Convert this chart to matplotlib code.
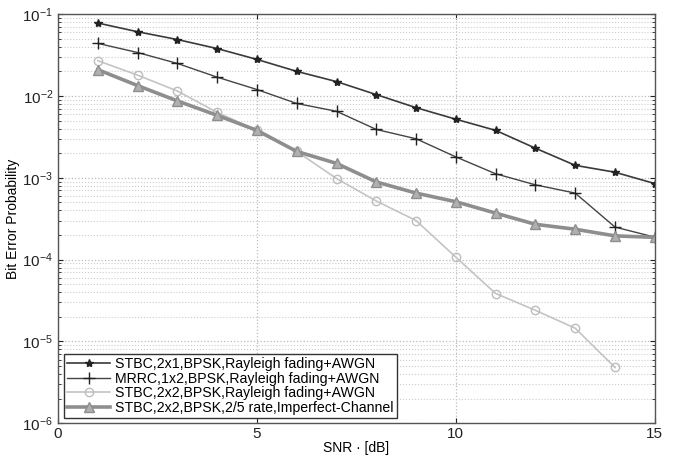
import matplotlib
matplotlib.use("Agg")
import matplotlib.pyplot as plt
from matplotlib.ticker import LogLocator, NullFormatter, FixedLocator

plt.rcParams['font.family'] = ['Liberation Sans', 'DejaVu Sans']
plt.rcParams['mathtext.fontset'] = 'custom'
plt.rcParams['mathtext.rm'] = 'Liberation Sans'
plt.rcParams['mathtext.it'] = 'Liberation Sans'

snr = list(range(1, 16))
snr_2x2 = list(range(1, 15))

ber_stbc_2x1 = [0.078, 0.061, 0.049, 0.038, 0.028, 0.020, 0.015, 0.0104,
                0.0072, 0.0052, 0.0038, 0.0023, 0.00142, 0.00117, 0.00085]
ber_mrrc_1x2 = [0.044, 0.034, 0.025, 0.017, 0.012, 0.0081, 0.0065, 0.0039,
                0.0030, 0.0018, 0.00112, 0.00082, 0.00065, 0.00025, 0.000188]
ber_stbc_2x2 = [0.027, 0.018, 0.0115, 0.0063, 0.0038, 0.0021, 0.00098,
                0.00052, 0.00030, 0.000107, 3.85e-5, 2.4e-5, 1.45e-5, 4.8e-6]
ber_stbc_2x2_imperfect = [0.021, 0.0134, 0.0087, 0.0058, 0.0038, 0.0021,
                          0.0015, 0.00089, 0.00065, 0.00051, 0.00037,
                          0.00027, 0.000235, 0.000195, 0.000187]

labels = ["STBC,2x1,BPSK,Rayleigh fading+AWGN",
          "MRRC,1x2,BPSK,Rayleigh fading+AWGN",
          "STBC,2x2,BPSK,Rayleigh fading+AWGN",
          "STBC,2x2,BPSK,2/5 rate,Imperfect-Channel"]

fig = plt.figure(figsize=(6.75, 4.58), dpi=100)
ax = fig.add_axes([0.086, 0.076, 0.884, 0.893])

ax.semilogy(snr, ber_stbc_2x1, color='#3a3a3a', lw=1.2, marker='*',
            ms=6, mfc='#222222', mec='#222222', label=labels[0])
ax.semilogy(snr, ber_mrrc_1x2, color='#444444', lw=1.0, marker='+',
            ms=8, mec='#222222', mew=1.0, label=labels[1])
ax.semilogy(snr_2x2, ber_stbc_2x2, color='#c4c4c4', lw=1.2, marker='o',
            ms=6, mfc='none', mec='#bdbdbd', label=labels[2])
ax.semilogy(snr, ber_stbc_2x2_imperfect, color='#8e8e8e', lw=2.6, marker='^',
            ms=7, mfc='#b0b0b0', mec='#8e8e8e', label=labels[3])

ax.set_xlim(0, 15)
ax.set_ylim(1e-6, 1e-1)
ax.set_xticks([0, 5, 10, 15])
ax.yaxis.set_major_locator(FixedLocator([1e-6, 1e-5, 1e-4, 1e-3, 1e-2, 1e-1]))
ax.set_yticklabels([r'$10^{-6}$', r'$10^{-5}$', r'$10^{-4}$',
                    r'$10^{-3}$', r'$10^{-2}$', r'$10^{-1}$'])
ax.yaxis.set_minor_locator(LogLocator(base=10, subs=range(2, 10), numticks=20))
ax.yaxis.set_minor_formatter(NullFormatter())

ax.grid(True, which='major', color='#bbbbbb', ls=':', lw=0.9)
ax.grid(True, which='minor', axis='y', color='#cccccc', ls=':', lw=0.8)
ax.tick_params(which='both', direction='in', labelsize=11, colors='#222222')
ax.tick_params(axis='x', pad=3)
ax.tick_params(which='both', right=True, top=True)
for s in ax.spines.values():
    s.set_color('#555555')
    s.set_linewidth(1.0)

ax.set_xlabel('SNR · [dB]', fontsize=10, labelpad=0)
ax.set_ylabel('Bit Error Probability', fontsize=10, labelpad=2)

leg = ax.legend(loc='lower left', bbox_to_anchor=(0.006, 0.006), fontsize=10.2,
                fancybox=False, framealpha=1, edgecolor='#333333',
                handlelength=3.0, borderpad=0.2, labelspacing=0.05,
                handletextpad=0.4, borderaxespad=0.2)
leg.get_frame().set_linewidth(1.0)

fig.savefig('out.png', dpi=100)
